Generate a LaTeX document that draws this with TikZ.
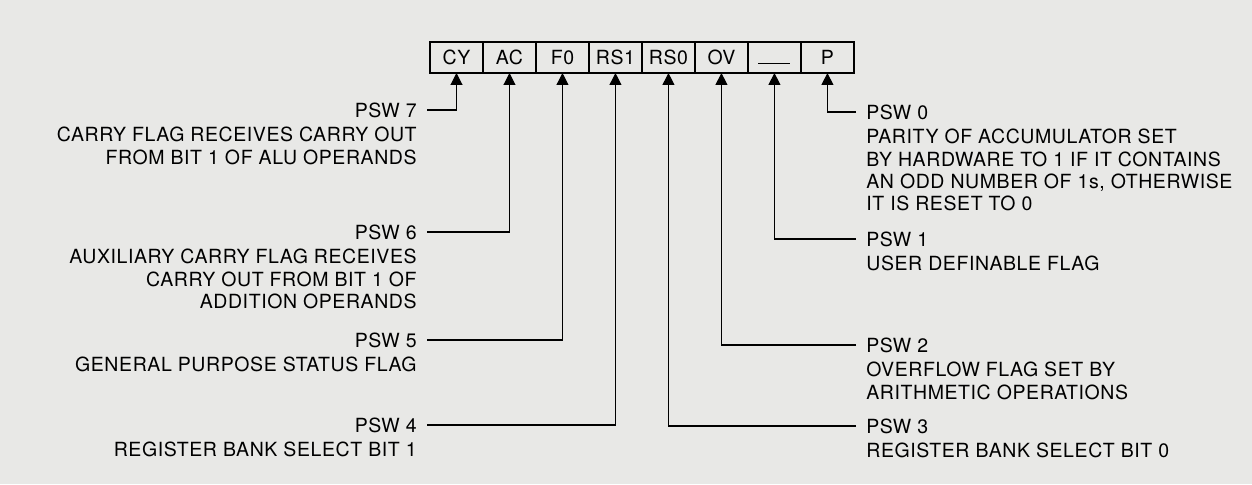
\documentclass[tikz,border=0pt]{standalone}
\usepackage{fontspec}
\setmainfont{TeX Gyre Heros}[LetterSpace=3]
\usepackage{tikz}
\usetikzlibrary{
  arrows.meta,
  positioning
}
\newcommand{\pswfont}{\fontsize{11.1}{12.8}\selectfont}
\definecolor{scangray}{RGB}{232,232,230}
\tikzset{
  bitcell/.style={draw, line width=1.1pt, outer sep=0pt, inner sep=0pt,
    minimum width=1.06cm, minimum height=0.62cm,
    text height=7.9pt, text depth=0pt, font=\pswfont},
  pswtitle/.style={inner sep=0pt, font=\pswfont},
  pswdesc/.style={inner sep=0pt, font=\pswfont},
  lead/.style={line width=0.6pt, shorten <=0.2cm,
    -{Triangle[length=0.24cm, width=0.24cm]}},
}

\begin{document}
\begin{tikzpicture}[x=0.02cm, y=0.02cm]
  % page
  \fill[scangray] (0,0) rectangle (1252,484);
  \useasboundingbox (0,0) rectangle (1252,484);

  % PSW register
  \node[bitcell] (cy) at (456.5,426.5) {CY};
  \node[bitcell, right=0pt of cy] (ac) {AC};
  \node[bitcell, right=0pt of ac] (f0) {F0};
  \node[bitcell, right=0pt of f0] (rs1) {RS1};
  \node[bitcell, right=0pt of rs1] (rs0) {RS0};
  \node[bitcell, right=0pt of rs0] (ov) {OV};
  \node[bitcell, right=0pt of ov] (ud) {\rule{0.64cm}{0.7pt}};
  \node[bitcell, right=0pt of ud] (p) {P};

  % left side bits
  \node[pswtitle, anchor=east] (t7) at (417,374) {PSW 7};
  \node[pswdesc, align=right, below=5pt of t7.south east, anchor=north east] (d7)
    {CARRY FLAG RECEIVES CARRY OUT\\FROM BIT 1 OF ALU OPERANDS};
  \node[pswtitle, anchor=east] (t6) at (417,252) {PSW 6};
  \node[pswdesc, align=right, below=5pt of t6.south east, anchor=north east] (d6)
    {AUXILIARY CARRY FLAG RECEIVES\\CARRY OUT FROM BIT 1 OF\\ADDITION OPERANDS};
  \node[pswtitle, anchor=east] (t5) at (417,144) {PSW 5};
  \node[pswdesc, align=right, below=5pt of t5.south east, anchor=north east] (d5)
    {GENERAL PURPOSE STATUS FLAG};
  \node[pswtitle, anchor=east] (t4) at (417,59) {PSW 4};
  \node[pswdesc, align=right, below=5pt of t4.south east, anchor=north east] (d4)
    {REGISTER BANK SELECT BIT 1};

  % right side bits
  \node[pswtitle, anchor=west] (t0) at (866,372) {PSW 0};
  \node[pswdesc, align=left, below=5pt of t0.south west, anchor=north west] (d0)
    {PARITY OF ACCUMULATOR SET\\BY HARDWARE TO 1 IF IT CONTAINS\\AN ODD NUMBER OF 1s, OTHERWISE\\IT IS RESET TO 0};
  \node[pswtitle, anchor=west] (t1) at (866,245) {PSW 1};
  \node[pswdesc, align=left, below=5pt of t1.south west, anchor=north west] (d1)
    {USER DEFINABLE FLAG};
  \node[pswtitle, anchor=west] (t2) at (866,139) {PSW 2};
  \node[pswdesc, align=left, below=5pt of t2.south west, anchor=north west] (d2)
    {OVERFLOW FLAG SET BY\\ARITHMETIC OPERATIONS};
  \node[pswtitle, anchor=west] (t3) at (866,58) {PSW 3};
  \node[pswdesc, align=left, below=5pt of t3.south west, anchor=north west] (d3)
    {REGISTER BANK SELECT BIT 0};

  % leader lines
  \foreach \a/\b in {t7/cy, t6/ac, t5/f0, t4/rs1} {
    \draw[lead] (\a.east) -| (\b.south);
  }
  \foreach \a/\b in {t0/p, t1/ud, t2/ov, t3/rs0} {
    \draw[lead] (\a.west) -| (\b.south);
  }
\end{tikzpicture}
\end{document}
